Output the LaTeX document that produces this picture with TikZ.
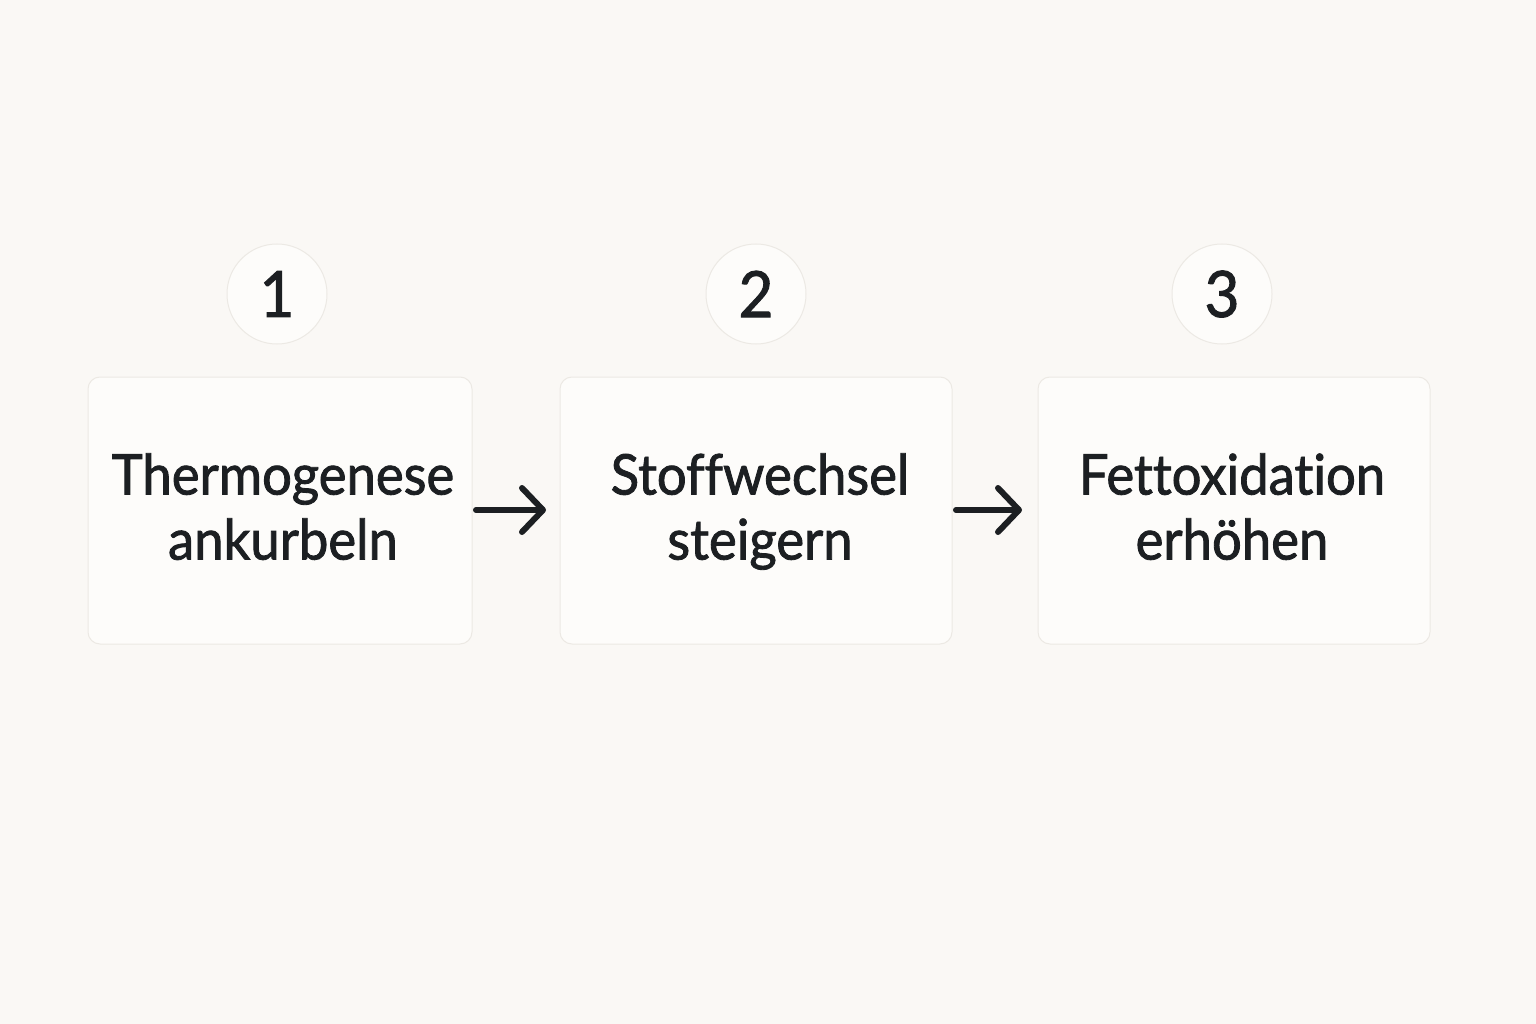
\documentclass[tikz,border=0pt]{standalone}
\usepackage{fontspec}
\setmainfont{Lato}[FakeBold=1.5, FakeStretch=0.94, Ligatures={NoCommon}]
\usetikzlibrary{arrows.meta}
\definecolor{bg}{HTML}{FAF8F5}
\definecolor{boxfill}{HTML}{FDFCFA}
\definecolor{ink}{HTML}{1C1F22}
\definecolor{edge}{HTML}{ECE9E4}
\tikzset{
  stepbox/.style={draw=edge, line width=1pt, fill=boxfill, rounded corners=12pt,
    minimum width=384pt, minimum height=267pt, inner sep=0pt},
  steptext/.style={align=center, inner sep=0pt, text=ink,
    font=\fontsize{56}{65}\selectfont},
  numcirc/.style={circle, draw=edge, line width=1pt, fill=boxfill, minimum size=100pt,
    inner sep=0pt, text=ink, font=\fontsize{64}{64}\selectfont},
  flow/.style={draw=ink, line width=6pt, line cap=round,
    -{Straight Barb[length=21pt, width=44pt, line width=6pt, round]}}
}
\begin{document}
\begin{tikzpicture}[x=1pt, y=-1pt]
\useasboundingbox[fill=bg] (0,0) rectangle (1536,1024);
\node[stepbox] (b1) at (280,510.5) {};
\node[stepbox, minimum width=392pt] (b2) at (756,510.5) {};
\node[stepbox, minimum width=392pt] (b3) at (1234,510.5) {};
\node[steptext] (t1) at (283,514) {\strut Thermogenese\\\strut ankurbeln};
\node[steptext] (t2) at (760,514) {\strut Stoffwechsel\\\strut steigern};
\node[steptext] (t3) at (1232,514) {\strut Fettoxidation\\\strut erhöhen};
\node[numcirc] (c1) at (277,294) {1};
\node[numcirc] (c2) at (756,294) {2};
\node[numcirc] (c3) at (1222,294) {3};
\coordinate (a1s) at (476,510);
\coordinate (a1e) at (546,510);
\coordinate (a2s) at (956,510);
\coordinate (a2e) at (1022,510);
\draw[flow] (a1s) -- (a1e);
\draw[flow] (a2s) -- (a2e);
\end{tikzpicture}
\end{document}
